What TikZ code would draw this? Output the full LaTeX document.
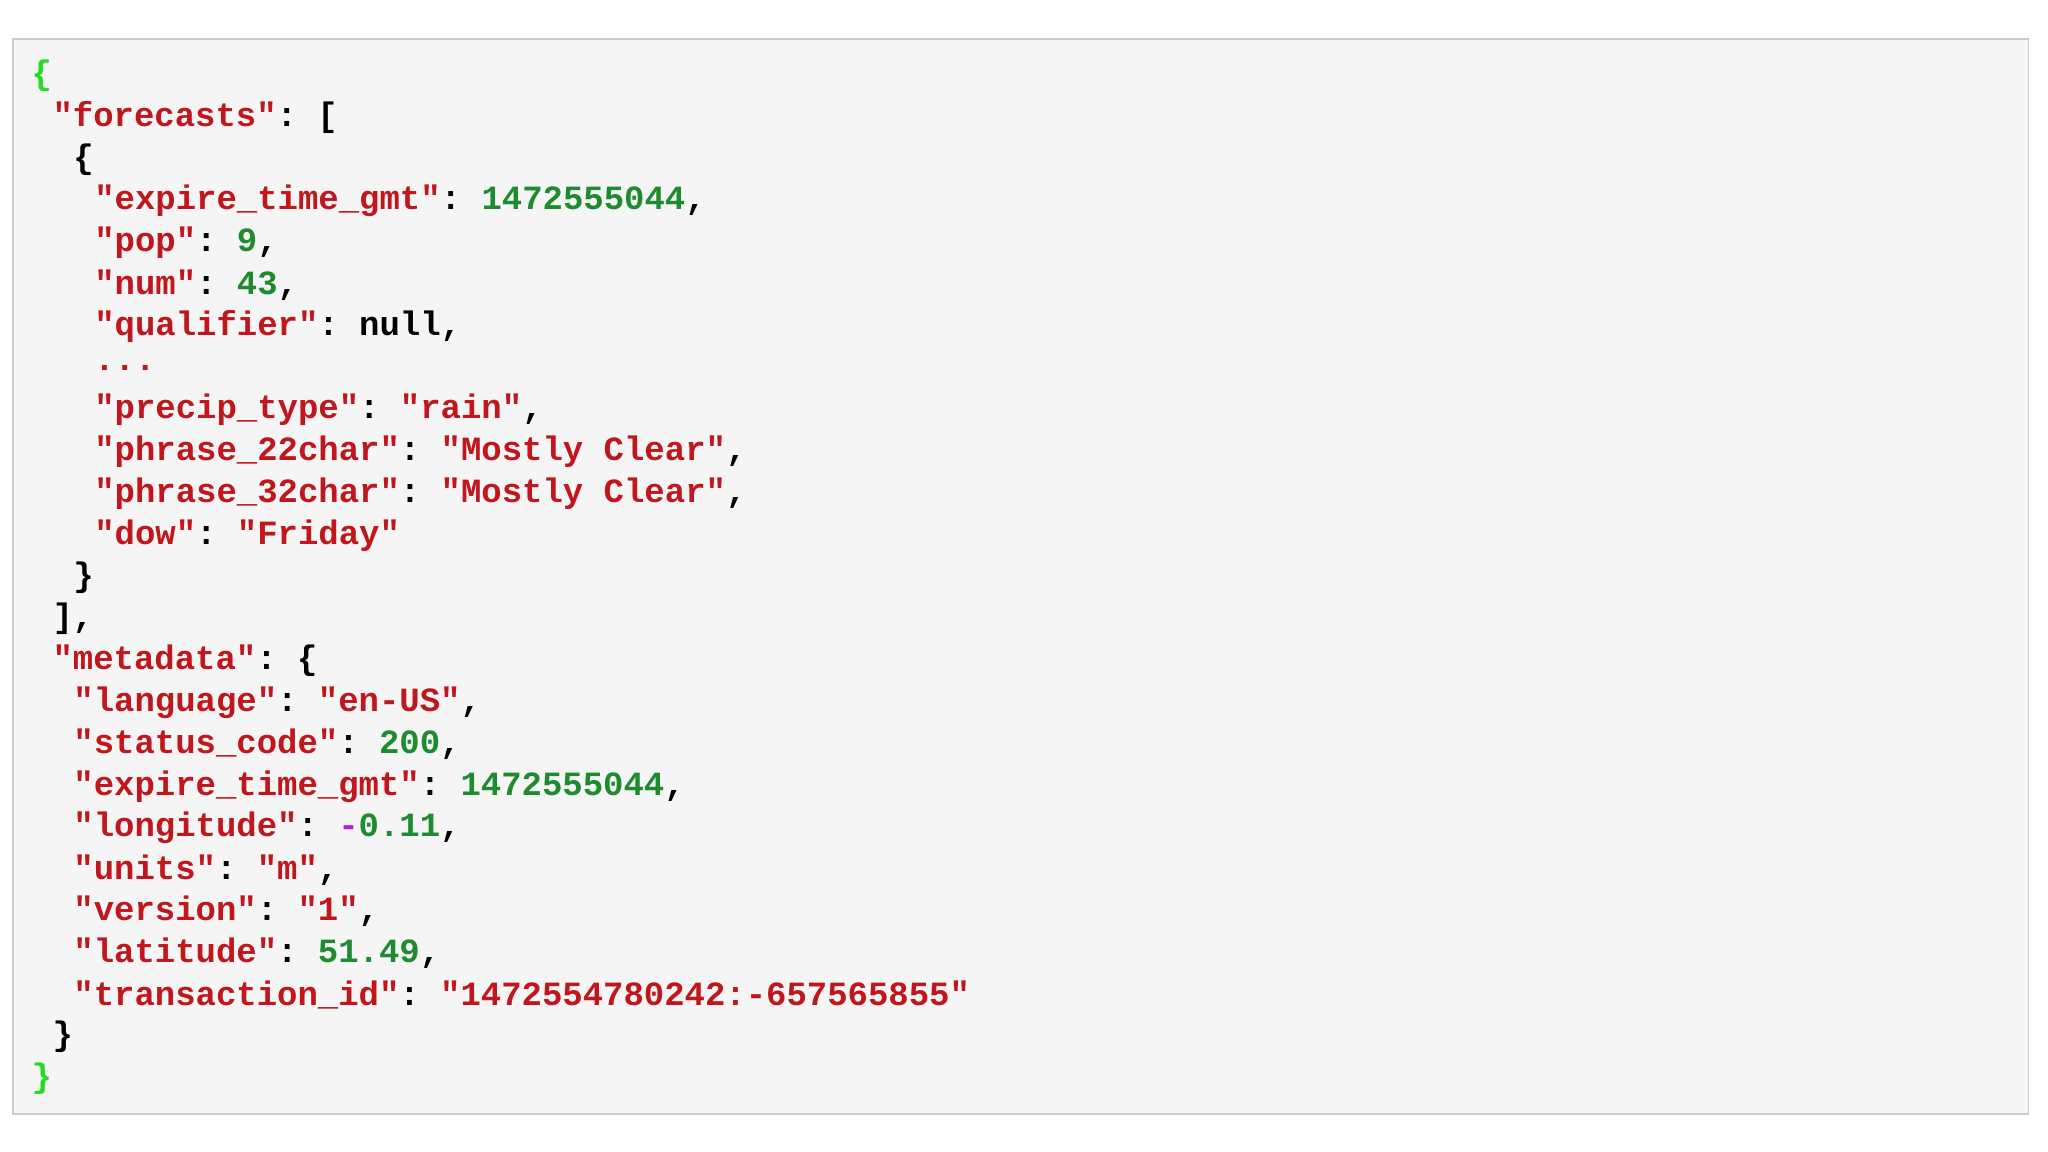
\documentclass[tikz,border=0pt]{standalone}
\usepackage{fontspec}
\setmonofont{Liberation Mono}
\definecolor{kc}{HTML}{C0161C}
\definecolor{nc}{HTML}{1E8C2E}
\definecolor{bc}{HTML}{22DD22}
\definecolor{mc}{HTML}{B020E0}
\definecolor{bg}{HTML}{F5F5F5}
\definecolor{bd}{HTML}{CCCCCC}
\newcommand{\Ky}[1]{\textcolor{kc}{#1}}
\newcommand{\Nm}[1]{\textcolor{nc}{#1}}
\tikzset{ln/.style={anchor=west,inner sep=0pt,font=\fontsize{26}{26}\selectfont\ttfamily\bfseries,text=black}}
\begin{document}
\begin{tikzpicture}[x=1pt,y=-1pt]
\useasboundingbox (0,0) rectangle (1568,882);
\fill[white] (0,0) rectangle (1568,882);
\draw[bd,fill=bg,line width=1.2pt] (10,30) rectangle (1553,853);
\def\yy#1{#1}
\node[ln] (l1) at (24,58) {\textcolor{bc}{\{}};
\node[ln] (l2) at (40,90) {\Ky{"forecasts"}: [};
\node[ln] (l3) at (56,122) {\{};
\node[ln] (l4) at (72,154) {\Ky{"expire\_time\_gmt"}: \Nm{1472555044},};
\node[ln] (l5) at (72,186) {\Ky{"pop"}: \Nm{9},};
\node[ln] (l6) at (72,218) {\Ky{"num"}: \Nm{43},};
\node[ln] (l7) at (72,250) {\Ky{"qualifier"}: null,};
\node[ln] (l8) at (72,282) {\Ky{...}};
\node[ln] (l9) at (72,314) {\Ky{"precip\_type"}: \Ky{"rain"},};
\node[ln] (l10) at (72,346) {\Ky{"phrase\_22char"}: \Ky{"Mostly Clear"},};
\node[ln] (l11) at (72,378) {\Ky{"phrase\_32char"}: \Ky{"Mostly Clear"},};
\node[ln] (l12) at (72,410) {\Ky{"dow"}: \Ky{"Friday"}};
\node[ln] (l13) at (56,442) {\}};
\node[ln] (l14) at (40,474) {],};
\node[ln] (l15) at (40,506) {\Ky{"metadata"}: \{};
\node[ln] (l16) at (56,538) {\Ky{"language"}: \Ky{"en-US"},};
\node[ln] (l17) at (56,570) {\Ky{"status\_code"}: \Nm{200},};
\node[ln] (l18) at (56,602) {\Ky{"expire\_time\_gmt"}: \Nm{1472555044},};
\node[ln] (l19) at (56,634) {\Ky{"longitude"}: \textcolor{mc}{-}\Nm{0.11},};
\node[ln] (l20) at (56,666) {\Ky{"units"}: \Ky{"m"},};
\node[ln] (l21) at (56,698) {\Ky{"version"}: \Ky{"1"},};
\node[ln] (l22) at (56,730) {\Ky{"latitude"}: \Nm{51.49},};
\node[ln] (l23) at (56,762) {\Ky{"transaction\_id"}: \Ky{"1472554780242:-657565855"}};
\node[ln] (l24) at (40,794) {\}};
\node[ln] (l25) at (24,826) {\textcolor{bc}{\}}};
\end{tikzpicture}
\end{document}
